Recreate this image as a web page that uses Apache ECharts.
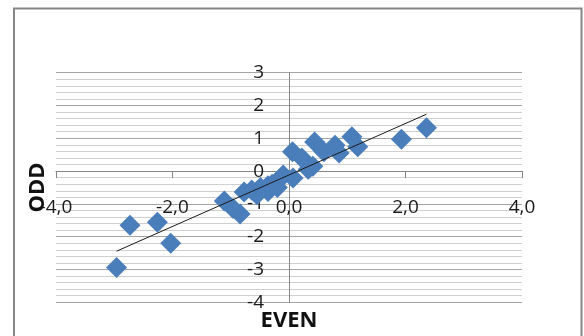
<!DOCTYPE html>
<html>
<head>
<meta charset="utf-8">
<script src="https://cdn.jsdelivr.net/npm/echarts@6/dist/echarts.min.js"></script>
<style>
  html, body { margin: 0; padding: 0; background: #ffffff; }
  #chart { width: 584px; height: 336px; }
</style>
</head>
<body>
<div id="chart"></div>
<script>
// EVEN / ODD score pairs
const evenValues = [-2.96, -2.73, -2.26, -2.03, -1.11, -0.96, -0.84, -0.77, -0.64, -0.49,
                    -0.36, -0.29, -0.19, -0.10, 0.07, 0.06, 0.22, 0.33, 0.41, 0.44,
                    0.60, 0.79, 0.86, 1.08, 1.18, 1.93, 2.36, -0.55, -0.36, -0.20];
const oddValues  = [-2.94, -1.65, -1.56, -2.20, -0.91, -1.14, -1.31, -0.64, -0.58, -0.50,
                    -0.45, -0.40, -0.30, -0.12, -0.21, 0.59, 0.40, 0.06, 0.15, 0.89,
                    0.59, 0.79, 0.55, 1.05, 0.74, 0.97, 1.32, -0.72, -0.62, -0.50];

// Axis tick bounds and steps
const xMin = -4, xMax = 4, xStep = 2;
const yMin = -4, yMax = 3, yStep = 1;

const points = evenValues.map((x, i) => [x, oddValues[i]]);

// Least-squares linear trend over the data range
function linearTrend(xs, ys) {
  const n = xs.length;
  const mx = xs.reduce((a, b) => a + b, 0) / n;
  const my = ys.reduce((a, b) => a + b, 0) / n;
  let sxy = 0, sxx = 0;
  for (let i = 0; i < n; i++) {
    sxy += (xs[i] - mx) * (ys[i] - my);
    sxx += (xs[i] - mx) * (xs[i] - mx);
  }
  const slope = sxy / sxx;
  const icpt = my - slope * mx;
  const x0 = Math.min(...xs), x1 = Math.max(...xs);
  return [[x0, slope * x0 + icpt], [x1, slope * x1 + icpt]];
}
const trend = linearTrend(evenValues, oddValues);

// Plot frame
const W = 584, H = 336;
const gridLeft = 56, gridRight = 62, gridTop = 72.7, gridBottom = 33.7;
const plotW = W - gridLeft - gridRight, plotH = H - gridTop - gridBottom;
// shift each axis from the frame edge onto the zero line of the other axis
const xAxisShift = -(plotH * (0 - yMin) / (yMax - yMin));
const yAxisShift = -(plotW * (0 - xMin) / (xMax - xMin));

const FONT = '"Open Sans", "Noto Sans", sans-serif';
const chart = echarts.init(document.getElementById('chart'), null, { renderer: 'canvas' });

chart.setOption({
  animation: false,
  backgroundColor: '#ffffff',
  grid: { left: gridLeft, right: gridRight, top: gridTop, bottom: gridBottom, containLabel: false },
  xAxis: {
    type: 'value', position: 'bottom', offset: xAxisShift,
    min: xMin, max: xMax, interval: xStep,
    axisLine: { show: true, onZero: false, lineStyle: { color: '#868686', width: 1 } },
    axisTick: { show: true, inside: false, length: 7, lineStyle: { color: '#868686' } },
    axisLabel: {
      margin: 27, fontFamily: FONT, fontSize: 19, color: '#1a1a1a',
      formatter: v => v.toFixed(1).replace('.', ',')
    },
    splitLine: { show: false }
  },
  yAxis: {
    type: 'value', position: 'left', offset: yAxisShift,
    min: yMin, max: yMax, interval: yStep,
    axisLine: { show: true, onZero: false, lineStyle: { color: '#868686', width: 1 } },
    axisTick: { show: false },
    axisLabel: { margin: 25, fontFamily: FONT, fontSize: 19, color: '#1a1a1a' },
    splitLine: { show: true, lineStyle: { color: '#a3a3a3', width: 1 } },
    minorTick: { show: false, splitNumber: 5 },
    minorSplitLine: { show: true, lineStyle: { color: '#cfcfcf', width: 1 } }
  },
  series: [
    {
      type: 'scatter',
      data: points,
      symbol: 'diamond',
      symbolSize: 21,
      itemStyle: { color: '#4a7ebb', opacity: 1 },
      z: 3
    },
    {
      type: 'line',
      data: trend,
      showSymbol: false,
      symbol: 'none',
      lineStyle: { color: '#1a1a1a', width: 1 },
      silent: true,
      z: 4
    }
  ],
  graphic: [
    {
      type: 'rect',
      shape: { x: 14, y: 8.5, width: 567.5, height: 340 },
      style: { fill: 'none', stroke: '#878787', lineWidth: 2 },
      silent: true, z: 10
    },
    {
      type: 'text',
      x: 289, y: 321,
      style: {
        text: 'EVEN', fontFamily: FONT, fontSize: 22, fontWeight: 'bold',
        fill: '#111111', align: 'center', verticalAlign: 'middle'
      },
      z: 10
    },
    {
      type: 'text',
      x: 38, y: 187.5,
      rotation: Math.PI / 2,
      style: {
        text: 'ODD', fontFamily: FONT, fontSize: 22, fontWeight: 'bold',
        fill: '#111111', align: 'center', verticalAlign: 'middle'
      },
      z: 10
    }
  ]
});
</script>
</body>
</html>
